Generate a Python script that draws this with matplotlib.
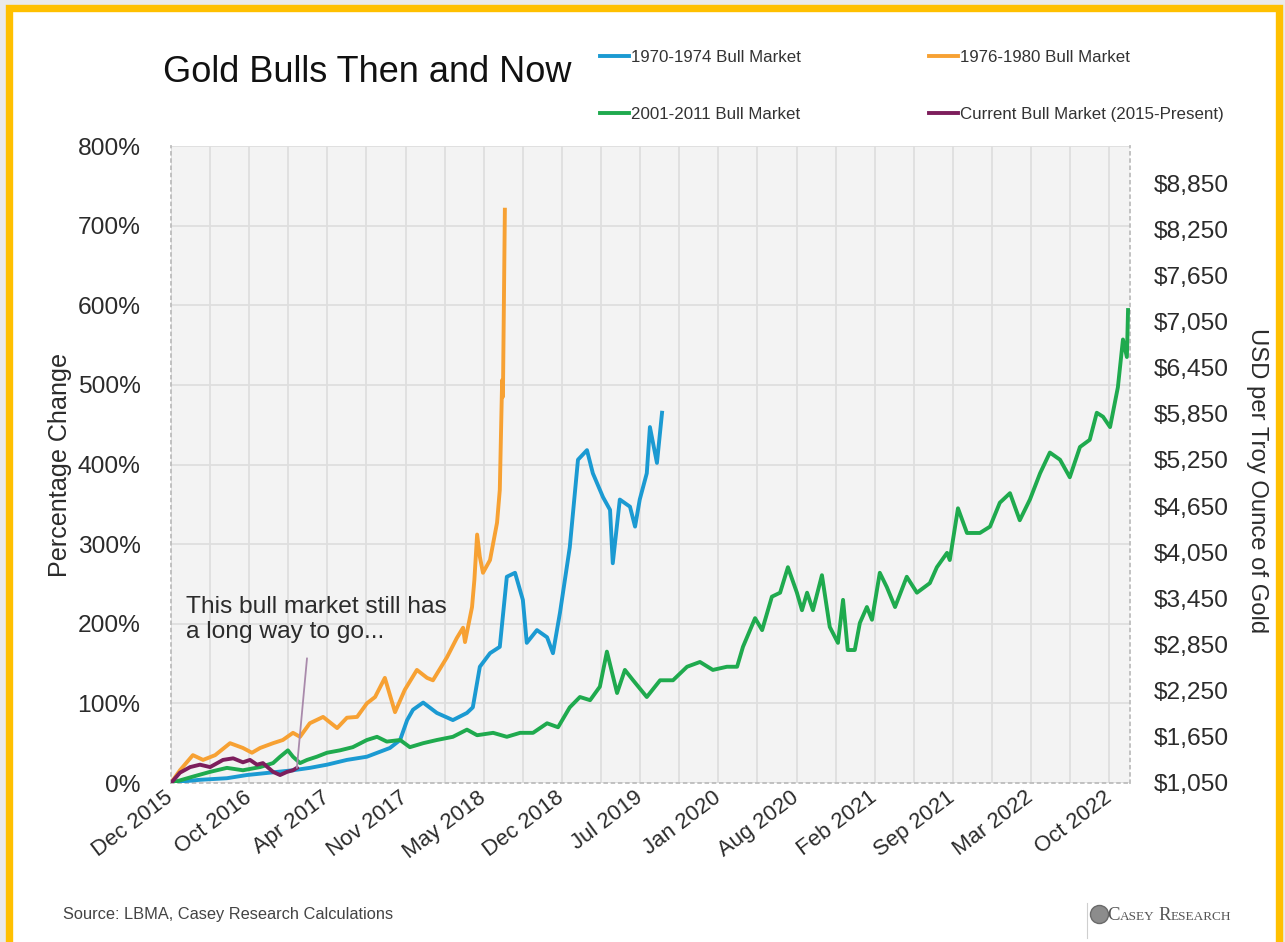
import numpy as np
import matplotlib
matplotlib.use('Agg')
import matplotlib.pyplot as plt
from matplotlib import font_manager
from matplotlib.patches import Rectangle
from matplotlib.lines import Line2D

names = {f.name for f in font_manager.fontManager.ttflist}
NARROW = 'Liberation Sans Narrow' in names
FONT = 'Liberation Sans Narrow' if NARROW else 'Liberation Sans'
S = 1.0 if NARROW else 0.84
plt.rcParams['font.family'] = [FONT, 'DejaVu Sans']

# category axis: one step per vertical gridline, labels on every second step
tick_labels = ['Dec 2015', 'Oct 2016', 'Apr 2017', 'Nov 2017', 'May 2018', 'Dec 2018', 'Jul 2019',
               'Jan 2020', 'Aug 2020', 'Feb 2021', 'Sep 2021', 'Mar 2022', 'Oct 2022']
pct_ticks = [0, 100, 200, 300, 400, 500, 600, 700, 800]
usd_ticks = [1050, 1650, 2250, 2850, 3450, 4050, 4650, 5250, 5850, 6450, 7050, 7650, 8250, 8850]

# 1970-1974 bull market, % change
blue_x = [0, 0.05, 0.74, 1.43, 1.94, 2.53, 3.12, 3.55, 3.99, 4.50, 5.01, 5.60, 5.86, 6.04, 6.19, 6.45,
          6.80, 7.21, 7.57, 7.72, 7.90, 8.16, 8.41, 8.59, 8.80, 9.00, 9.10, 9.36, 9.62, 9.77, 9.95,
          10.20, 10.41, 10.64, 10.79, 11.05, 11.23, 11.30, 11.48, 11.74, 11.87, 11.99, 12.17, 12.25,
          12.43, 12.56]
blue_y = [0, 1, 4, 6, 10, 13, 16, 19, 23, 29, 33, 44, 54, 79, 92, 101,
          88, 79, 88, 95, 146, 163, 171, 259, 264, 230, 176, 192, 183, 163, 214,
          296, 406, 418, 389, 359, 343, 276, 356, 347, 322, 356, 389, 447,
          402, 465]

# 1976-1980 bull market
orange_x = [0, 0.23, 0.56, 0.82, 1.13, 1.51, 1.84, 2.07, 2.28, 2.61, 2.86, 3.12, 3.30, 3.55, 3.89,
            4.25, 4.50, 4.76, 5.01, 5.22, 5.47, 5.73, 5.98, 6.29, 6.55, 6.70, 7.06, 7.31, 7.47, 7.52,
            7.70, 7.76, 7.83, 7.90, 7.98, 8.16, 8.34, 8.41, 8.47, 8.49, 8.54]
orange_y = [0, 16, 35, 29, 35, 50, 44, 38, 44, 50, 54, 63, 58, 75, 83,
            69, 82, 83, 100, 108, 132, 89, 117, 142, 132, 129, 158, 182, 195, 177,
            221, 255, 312, 284, 264, 280, 327, 368, 506, 485, 720]

# 2001-2011 bull market
green_x = [0, 0.56, 1.00, 1.43, 1.84, 2.28, 2.61, 2.79, 2.99, 3.12, 3.30, 3.48, 3.73, 3.99, 4.32,
           4.65, 5.01, 5.27, 5.52, 5.86, 6.11, 6.45, 6.80, 7.21, 7.57, 7.83, 8.24, 8.59, 8.93, 9.26,
           9.62, 9.90, 10.20, 10.46, 10.72, 10.97, 11.15, 11.41, 11.61, 11.82, 12.17, 12.51, 12.84,
           13.20, 13.53, 13.86, 14.22, 14.48, 14.63, 14.94, 15.12, 15.37, 15.58, 15.78, 16.01, 16.14,
           16.27, 16.42, 16.65, 16.85, 17.06, 17.19, 17.31, 17.49, 17.62, 17.80, 17.93, 18.13, 18.31,
           18.52, 18.82, 19.08, 19.41, 19.59, 19.85, 19.92, 20.13, 20.36, 20.69, 20.95, 21.20, 21.46,
           21.71, 21.97, 22.23, 22.48, 22.74, 22.99, 23.25, 23.50, 23.68, 23.84, 24.02, 24.22, 24.35,
           24.45, 24.48]
green_y = [0, 8, 14, 19, 16, 20, 25, 33, 41, 33, 25, 29, 33, 38, 41,
           45, 54, 58, 52, 54, 45, 50, 54, 58, 67, 60, 63, 58, 63, 63,
           75, 70, 95, 108, 104, 121, 165, 113, 142, 129, 108, 129, 129,
           146, 152, 142, 146, 146, 171, 207, 192, 234, 239, 271, 239, 217,
           239, 217, 261, 196, 176, 230, 167, 167, 201, 221, 205, 264, 246,
           221, 259, 239, 251, 271, 289, 280, 345, 314, 314, 322, 352, 364,
           330, 356, 389, 415, 406, 384, 422, 431, 465, 460, 447, 497, 557,
           535, 594]

# current bull market (2015-present)
purple_x = [0, 0.23, 0.49, 0.74, 1.00, 1.33, 1.59, 1.84, 2.02, 2.20, 2.35, 2.61, 2.79, 2.97, 3.12, 3.22]
purple_y = [0, 13, 20, 23, 20, 29, 31, 26, 29, 23, 25, 14, 10, 14, 16, 19]

BLUE = '#1B9AD2'
ORANGE = '#F7A133'
GREEN = '#1FAA4E'
PURPLE = '#7D1E5C'
TXT = '#2B2B2B'

fig = plt.figure(figsize=(12.85, 9.42), dpi=100, facecolor='white')
W, H = 1285, 942

# outer gold frame on a light grey margin
fig.patches.append(Rectangle((0, 0), 1, 1, transform=fig.transFigure, facecolor='#EAEAEA',
                             edgecolor='none', zorder=-3))
fig.patches.append(Rectangle((8.5 / W, -0.05), (1278.5 - 8.5) / W, 1.05 - 8.5 / H,
                             transform=fig.transFigure, facecolor='white', edgecolor='#FFC000',
                             lw=5.3, zorder=-2))

ax = fig.add_axes([171 / W, 1 - 783 / H, (1130 - 171) / W, (783 - 146) / H])
ax.set_facecolor('#F3F3F3')

LW = 2.8
l_blue, = ax.plot(blue_x, blue_y, color=BLUE, lw=LW, zorder=3, solid_joinstyle='round')
l_orange, = ax.plot(orange_x, orange_y, color=ORANGE, lw=LW, zorder=3, solid_joinstyle='round')
l_green, = ax.plot(green_x, green_y, color=GREEN, lw=LW, zorder=4, solid_joinstyle='round')
l_purple, = ax.plot(purple_x, purple_y, color=PURPLE, lw=LW, zorder=5, solid_joinstyle='round')

ax.set_xlim(0, 24.53)
ax.set_ylim(0, 800)
ax.set_xticks(np.arange(0, 25, 2))
ax.set_xticklabels(tick_labels, rotation=37, ha='right', va='center', rotation_mode='anchor')
ax.set_xticks(np.arange(1, 25), minor=True)
ax.set_yticks(pct_ticks)
ax.set_yticklabels([f'{v}%' for v in pct_ticks])
ax.tick_params(axis='x', which='both', length=0, pad=9, labelsize=19 * S, labelcolor=TXT)
ax.tick_params(axis='y', length=0, pad=22, labelsize=21 * S, labelcolor=TXT)

ax.grid(axis='y', color='#DEDEDE', lw=1.3, zorder=0)
ax.grid(axis='x', which='both', color='#DEDEDE', lw=1.3, zorder=0)
ax.set_axisbelow(True)
for side in ['left', 'right', 'bottom']:
    ax.spines[side].set_color('#BDBDBD')
    ax.spines[side].set_linestyle((0, (1.5, 2.5)))
    ax.spines[side].set_linewidth(1.3)
ax.spines['top'].set_visible(False)

ax.set_ylabel('Percentage Change', fontsize=21.5 * S, color=TXT)
ax.yaxis.set_label_coords(-(171 - 72) / (1130 - 171), 0.5)

ax2 = ax.twinx()
ax2.set_ylim(1050, 9332)
ax2.set_yticks(usd_ticks)
ax2.set_yticklabels([f'${v:,}' for v in usd_ticks])
ax2.tick_params(axis='y', length=0, pad=17, labelsize=21 * S, labelcolor=TXT)
for side in ax2.spines:
    ax2.spines[side].set_visible(False)
ax2.set_ylabel('USD per Troy Ounce of Gold', fontsize=20.5 * S, color=TXT, rotation=270)
ax2.yaxis.set_label_coords(1 + (1268 - 1130) / (1130 - 171), 0.475)

# annotation pointing at the end of the current bull market
ax.annotate('This bull market still has\na long way to go...', xy=(3.22, 19), xytext=(0.38, 205),
            ha='left', va='center', fontsize=21 * S, color=TXT, linespacing=1.15,
            arrowprops=dict(arrowstyle='-', color='#A98AAB', lw=1.3, shrinkA=9, shrinkB=0,
                            relpos=(0.47, 0.0)), zorder=6)

# title
fig.text(163 / W, 1 - 72 / H, 'Gold Bulls Then and Now', fontsize=31 * S, color='#111111',
         ha='left', va='center')

# legend (column-wise fill: left column first)
handles = [l_blue, l_green, l_orange, l_purple]
labels = ['1970-1974 Bull Market', '2001-2011 Bull Market',
          '1976-1980 Bull Market', 'Current Bull Market (2015-Present)']
fig.legend(handles, labels, loc='upper left', bbox_to_anchor=(600 / W, 1 - 50 / H), ncol=2,
           frameon=False, fontsize=14.5 * S, handlelength=1.7, handletextpad=0.12,
           columnspacing=7.6, labelspacing=2.5, borderpad=0, borderaxespad=0,
           labelcolor='#333333')

# footer
fig.text(63 / W, 1 - 915 / H, 'Source: LBMA, Casey Research Calculations', fontsize=14 * S,
         color='#444444', ha='left', va='center')
fig.add_artist(Line2D([1087 / W, 1087 / W], [1 - 903 / H, 1 - 938 / H], color='#CFCFCF', lw=0.8))
fig.add_artist(Line2D([1099 / W], [1 - 914 / H], marker='o', markersize=13, color='#8C8C8C',
                      markeredgecolor='#6A6A6A'))
# small-caps style logo text
for part, x0, size in [('C', 1107, 13.5), ('ASEY', 1120, 9.5), ('R', 1158, 13.5), ('ESEARCH', 1171, 9.5)]:
    fig.text(x0 / W, 1 - 920 / H, part, fontsize=size, family='Liberation Serif', color='#555555',
             ha='left', va='baseline')

fig.savefig('out.png', dpi=100, facecolor=fig.get_facecolor())
